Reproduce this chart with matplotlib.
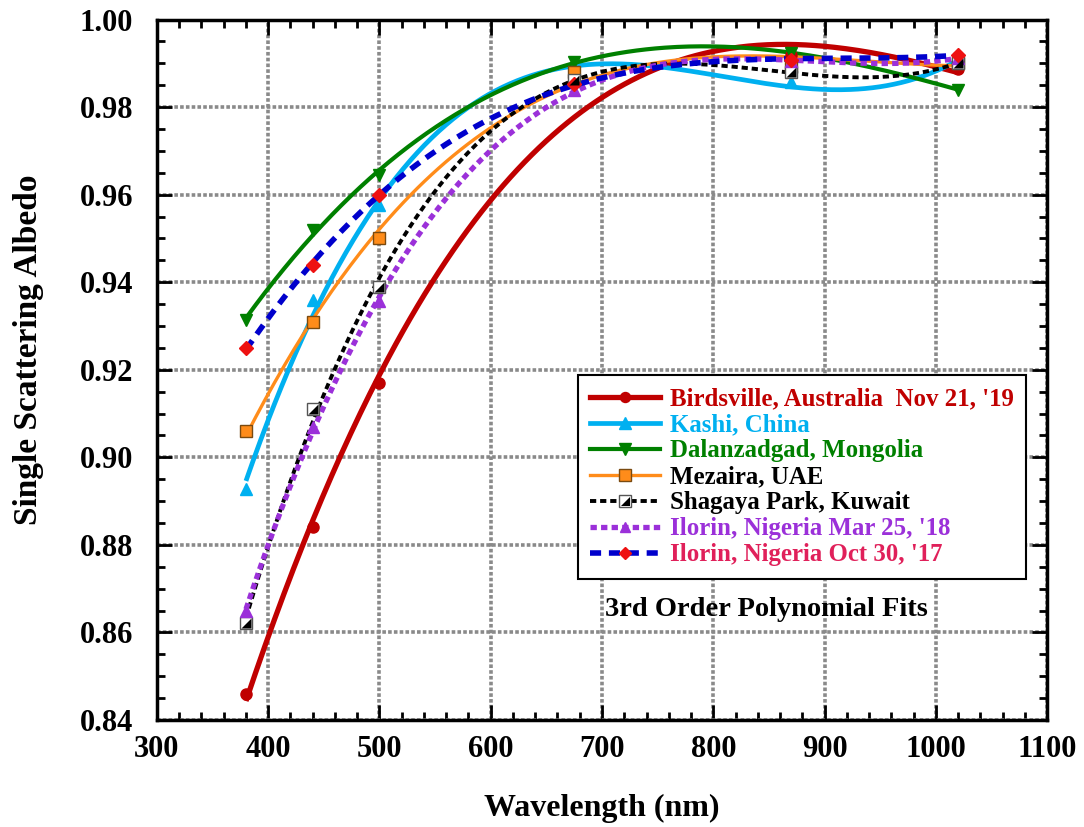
import numpy as np
import matplotlib
matplotlib.use("Agg")
import matplotlib.pyplot as plt
from matplotlib.lines import Line2D

plt.rcParams['font.family'] = ['Liberation Serif', 'DejaVu Serif']
plt.rcParams['font.weight'] = 'bold'

wavelengths = [380, 440, 500, 675, 870, 1020]

birdsville = [0.846, 0.884, 0.917, 0.981, 0.992, 0.9886]
kashi = [0.8927, 0.936, 0.9576, 0.988, 0.9858, 0.9903]
dalanzadgad = [0.9314, 0.952, 0.9645, 0.9904, 0.9923, 0.984]
mezaira = [0.906, 0.931, 0.950, 0.988, 0.9896, 0.990]
shagaya = [0.8621, 0.9111, 0.939, 0.9862, 0.988, 0.990]
ilorin_mar = [0.865, 0.907, 0.9356, 0.9839, 0.9905, 0.9912]
ilorin_oct = [0.9249, 0.944, 0.960, 0.9853, 0.9908, 0.9919]

# marker visible at each wavelength (Birdsville's 675 nm marker is not shown in the original)
birdsville_marker_idx = [0, 1, 2, 4, 5]

labels = ["Birdsville, Australia  Nov 21, '19", "Kashi, China", "Dalanzadgad, Mongolia",
          "Mezaira, UAE", "Shagaya Park, Kuwait", "Ilorin, Nigeria Mar 25, '18",
          "Ilorin, Nigeria Oct 30, '17"]
label_colors = ['#C00000', '#00B0F0', '#008000', 'black', 'black', '#9B30D9', '#E0205A']

fig = plt.figure(figsize=(10.84, 8.27), dpi=100)
ax = fig.add_axes([0.1448, 0.1294, 0.8211, 0.847])

x = np.array(wavelengths, dtype=float)
xx = np.linspace(380, 1020, 300)

def fit(y):
    p = np.polynomial.Polynomial.fit(x, np.array(y, dtype=float), 3)
    return p(xx)

series = [
    dict(y=birdsville, color='#C00000', ls='-', lw=3.8, marker='o', mfc='#C00000', mec='#C00000', ms=8,
         every=birdsville_marker_idx),
    dict(y=kashi, color='#00B0F0', ls='-', lw=3.4, marker='^', mfc='#00B0F0', mec='#00B0F0', ms=9),
    dict(y=dalanzadgad, color='#008000', ls='-', lw=3.0, marker='v', mfc='#008000', mec='#008000', ms=9),
    dict(y=mezaira, color='#FF8C1A', ls='-', lw=2.4, marker='s', mfc='#FF8C1A', mec='#7A4A10', ms=9),
    dict(y=shagaya, color='black', ls=(0, (1.6, 1.0)), lw=2.8, marker=None, mfc='white', mec='black', ms=9),
    dict(y=ilorin_mar, color='#9B30D9', ls=(0, (1.2, 0.8)), lw=3.8, marker='^', mfc='#9B30D9', mec='#9B30D9', ms=8),
    dict(y=ilorin_oct, color='#0000CC', ls=(0, (2.0, 1.4)), lw=4.0, marker='D', mfc='#EE1111', mec='#EE1111', ms=7),
]

tri = [(1, -1), (1, 1), (-1, -1), (1, -1)]

handles = []
for s in series:
    ax.plot(xx, fit(s['y']), color=s['color'], ls=s['ls'], lw=s['lw'], zorder=3,
            solid_capstyle='butt', dash_capstyle='butt')
    if s['marker'] is None:
        ax.plot(x, s['y'], ls='none', marker='s', ms=s['ms'], mfc='white', mec='#555555', mew=1, zorder=4)
        ax.plot(x, s['y'], ls='none', marker=tri, ms=s['ms'] * 0.8, mfc='black', mec='black', mew=0, zorder=5)
        h1 = Line2D([], [], color=s['color'], ls=s['ls'], lw=s['lw'], marker='s', ms=s['ms'] * 0.9,
                    mfc='white', mec='#555555', mew=1)
        h2 = Line2D([], [], ls='none', marker=tri, ms=s['ms'] * 0.72, mfc='black', mec='black', mew=0)
        h = (h1, h2)
    else:
        ax.plot(x, s['y'], ls='none', marker=s['marker'], ms=s['ms'], mfc=s['mfc'], mec=s['mec'],
                mew=1, zorder=4, markevery=s.get('every', None))
        h = Line2D([], [], color=s['color'], ls=s['ls'], lw=s['lw'], marker=s['marker'], ms=s['ms'] * 0.9,
                   mfc=s['mfc'], mec=s['mec'], mew=1)
    handles.append(h)

ax.set_xlim(300, 1100)
ax.set_ylim(0.84, 1.00)
ax.set_xticks(np.arange(300, 1101, 100))
ax.set_yticks(np.arange(0.84, 1.0001, 0.02))
ax.set_yticklabels([f"{v:.2f}" for v in np.arange(0.84, 1.0001, 0.02)])
ax.set_xticks(np.arange(300, 1101, 20), minor=True)
ax.set_yticks(np.arange(0.84, 1.0001, 0.005), minor=True)

ax.grid(True, which='major', color='#8a8a8a', ls=(0, (1, 0.6)), lw=2.6, zorder=1)
ax.set_axisbelow(True)

ax.tick_params(which='both', direction='in', top=True, right=True, width=2, labelsize=22)
ax.tick_params(axis='x', which='major', pad=11)
ax.tick_params(axis='y', which='major', pad=17)
ax.tick_params(which='major', length=11)
ax.tick_params(which='minor', length=6)
for sp in ax.spines.values():
    sp.set_linewidth(2.5)
for t in ax.get_xticklabels() + ax.get_yticklabels():
    t.set_fontweight('bold')

ax.set_xlabel("Wavelength (nm)", fontsize=23, fontweight='bold')
ax.set_ylabel("Single Scattering Albedo", fontsize=24, fontweight='bold')
ax.xaxis.set_label_coords(0.5, -0.106)
ax.yaxis.set_label_coords(-0.127, 0.528)

leg = ax.legend(handles, labels, loc='upper left', bbox_to_anchor=(0.473, 0.4925),
                fontsize=17.9, frameon=True, fancybox=False, handlelength=2.8, handletextpad=0.4,
                labelspacing=0.12, borderpad=0.5, borderaxespad=0, numpoints=1)
leg.get_frame().set_edgecolor('black')
leg.get_frame().set_linewidth(1.5)
leg.get_frame().set_alpha(1)
for txt, c in zip(leg.get_texts(), label_colors):
    txt.set_color(c)
    txt.set_fontweight('bold')

ax.text(848, 0.8652, "3rd Order Polynomial Fits", fontsize=20.5, fontweight='bold',
        ha='center', va='center', zorder=6)

fig.savefig("out.png", dpi=100)
